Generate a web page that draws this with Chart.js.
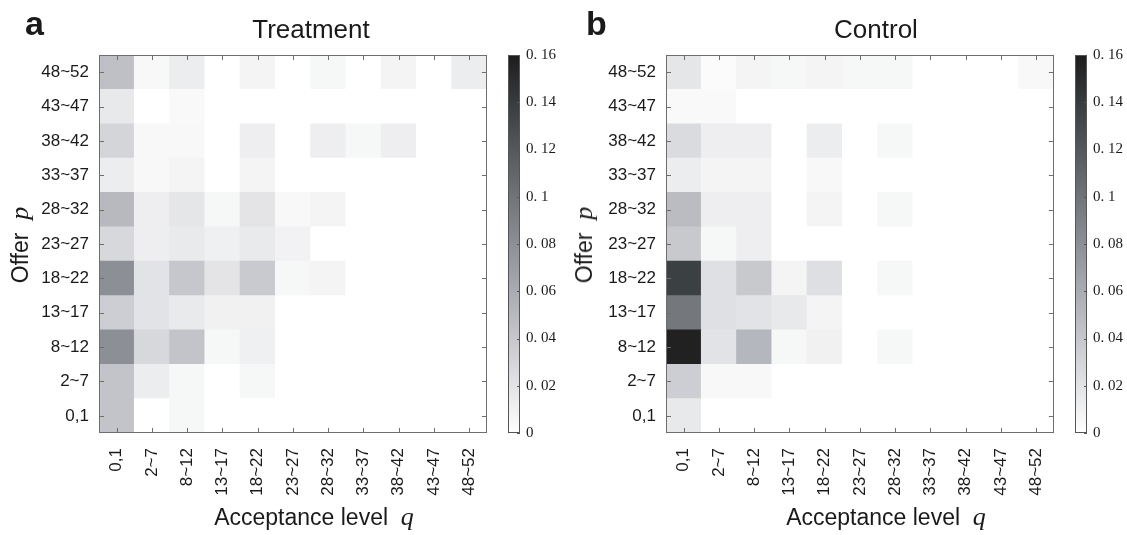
<!DOCTYPE html>
<html><head><meta charset="utf-8">
<script src="https://cdn.jsdelivr.net/npm/chart.js@4.4.0/dist/chart.umd.min.js"></script>
<style>
html,body{margin:0;padding:0;background:#fff;}
#wrap{position:relative;width:1127px;height:535px;overflow:hidden;font-family:"Liberation Sans",Arial,sans-serif;color:#1a1a1a;}
canvas{position:absolute;}
.lbl{position:absolute;line-height:1;white-space:nowrap;}
.ctr{transform:translateX(-50%);}
.ital{font-family:"Liberation Serif",serif;font-style:italic;}
.ytitle{position:absolute;line-height:1;white-space:nowrap;font-size:23px;transform:translate(-50%,-50%) rotate(-90deg);}
</style></head><body>
<div id="wrap">
  <canvas id="hmA" width="505" height="535" style="left:0;top:0"></canvas>
  <canvas id="cbA" width="60" height="535" style="left:500px;top:0"></canvas>
  <canvas id="hmB" width="505" height="535" style="left:567px;top:0"></canvas>
  <canvas id="cbB" width="60" height="535" style="left:1067px;top:0"></canvas>

  <div class="lbl" style="left:25px;top:6px;font-size:34px;font-weight:bold;">a</div>
  <div class="lbl" style="left:586px;top:6px;font-size:34px;font-weight:bold;">b</div>
  <div class="lbl ctr" style="left:311px;top:16px;font-size:26px;">Treatment</div>
  <div class="lbl ctr" style="left:876px;top:16px;font-size:26px;">Control</div>
  <div class="lbl ctr" style="left:314px;top:504px;font-size:23px;">Acceptance level&nbsp;&nbsp;<span class="ital" style="font-size:26px">q</span></div>
  <div class="lbl ctr" style="left:886px;top:504px;font-size:23px;">Acceptance level&nbsp;&nbsp;<span class="ital" style="font-size:26px">q</span></div>
  <div class="ytitle" style="left:20px;top:245px;">Offer&nbsp; <span class="ital" style="font-size:26px">p</span></div>
  <div class="ytitle" style="left:584px;top:245px;">Offer&nbsp; <span class="ital" style="font-size:26px">p</span></div>
</div>
<script>
// Categories (acceptance level q on x, offer p on y; y listed bottom -> top)
const xCats = ['0,1','2~7','8~12','13~17','18~22','23~27','28~32','33~37','38~42','43~47','48~52'];
const yCats = ['0,1','2~7','8~12','13~17','18~22','23~27','28~32','33~37','38~42','43~47','48~52'];
// Colour-bar ticks
const cbTicks = [0, 0.02, 0.04, 0.06, 0.08, 0.1, 0.12, 0.14, 0.16];

// Treatment: one row per offer category (bottom row first), columns follow xCats
const treatment = [
  [0.042, 0.000, 0.006, 0.000, 0.000, 0.000, 0.000, 0.000, 0.000, 0.000, 0.000],
  [0.042, 0.013, 0.006, 0.000, 0.006, 0.000, 0.000, 0.000, 0.000, 0.000, 0.000],
  [0.080, 0.028, 0.042, 0.006, 0.011, 0.000, 0.000, 0.000, 0.000, 0.000, 0.000],
  [0.035, 0.020, 0.015, 0.010, 0.010, 0.000, 0.000, 0.000, 0.000, 0.000, 0.000],
  [0.080, 0.020, 0.040, 0.019, 0.038, 0.006, 0.008, 0.000, 0.000, 0.000, 0.000],
  [0.028, 0.012, 0.015, 0.011, 0.015, 0.009, 0.000, 0.000, 0.000, 0.000, 0.000],
  [0.050, 0.012, 0.018, 0.006, 0.019, 0.005, 0.008, 0.000, 0.000, 0.000, 0.000],
  [0.013, 0.005, 0.008, 0.000, 0.008, 0.000, 0.000, 0.000, 0.000, 0.000, 0.000],
  [0.030, 0.005, 0.005, 0.000, 0.012, 0.000, 0.012, 0.006, 0.012, 0.000, 0.000],
  [0.016, 0.000, 0.004, 0.000, 0.000, 0.000, 0.000, 0.000, 0.000, 0.000, 0.000],
  [0.045, 0.005, 0.013, 0.000, 0.008, 0.000, 0.006, 0.000, 0.008, 0.000, 0.013]
];
// Control
const control = [
  [0.016, 0.000, 0.000, 0.000, 0.000, 0.000, 0.000, 0.000, 0.000, 0.000, 0.000],
  [0.035, 0.005, 0.005, 0.000, 0.000, 0.000, 0.000, 0.000, 0.000, 0.000, 0.000],
  [0.157, 0.020, 0.052, 0.006, 0.010, 0.000, 0.006, 0.000, 0.000, 0.000, 0.000],
  [0.097, 0.022, 0.020, 0.016, 0.008, 0.000, 0.000, 0.000, 0.000, 0.000, 0.000],
  [0.137, 0.022, 0.039, 0.008, 0.023, 0.000, 0.006, 0.000, 0.000, 0.000, 0.000],
  [0.039, 0.006, 0.012, 0.000, 0.000, 0.000, 0.000, 0.000, 0.000, 0.000, 0.000],
  [0.048, 0.012, 0.012, 0.000, 0.008, 0.000, 0.006, 0.000, 0.000, 0.000, 0.000],
  [0.013, 0.008, 0.008, 0.000, 0.005, 0.000, 0.000, 0.000, 0.000, 0.000, 0.000],
  [0.026, 0.012, 0.012, 0.000, 0.013, 0.000, 0.006, 0.000, 0.000, 0.000, 0.000],
  [0.004, 0.004, 0.000, 0.000, 0.000, 0.000, 0.000, 0.000, 0.000, 0.000, 0.000],
  [0.018, 0.003, 0.008, 0.006, 0.008, 0.006, 0.006, 0.000, 0.000, 0.000, 0.005]
];

const VMAX = 0.16;
const cmap = [
  [0.00, [255, 255, 255]],
  [0.30, [186, 188, 194]],
  [0.50, [140, 144, 150]],
  [0.86, [58, 64, 66]],
  [1.00, [30, 28, 29]]
];
function rgb(c){ return 'rgb(' + c.map(Math.round).join(',') + ')'; }
function colorFor(v){
  const t = Math.max(0, Math.min(1, v / VMAX));
  for (let i = 1; i < cmap.length; i++) {
    if (t <= cmap[i][0]) {
      const [t0, c0] = cmap[i-1], [t1, c1] = cmap[i];
      const f = (t - t0) / (t1 - t0);
      return rgb(c0.map((c, k) => c + (c1[k] - c) * f));
    }
  }
  return rgb(cmap[cmap.length-1][1]);
}

const AX = '#6e6e6e';
const tickFont = {family: '"Liberation Sans", Arial, sans-serif', size: 17};

const framePlugin = {
  id: 'frame',
  afterDraw(chart) {
    const {ctx, chartArea: a, scales} = chart;
    ctx.save();
    ctx.strokeStyle = AX; ctx.lineWidth = 1;
    ctx.strokeRect(Math.round(a.left) + 0.5, Math.round(a.top) + 0.5, Math.round(a.right - a.left) - 1, Math.round(a.bottom - a.top) - 1);
    ctx.beginPath();
    scales.x.ticks.forEach((t, i) => {
      const x = Math.round(scales.x.getPixelForTick(i)) + 0.5;
      ctx.moveTo(x, a.bottom); ctx.lineTo(x, a.bottom - 5);
      ctx.moveTo(x, a.top); ctx.lineTo(x, a.top + 5);
    });
    scales.y.ticks.forEach((t, i) => {
      const y = Math.round(scales.y.getPixelForTick(i)) + 0.5;
      ctx.moveTo(a.left, y); ctx.lineTo(a.left + 5, y);
      ctx.moveTo(a.right, y); ctx.lineTo(a.right - 5, y);
    });
    ctx.stroke();
    ctx.restore();
  }
};

function heatmap(id, matrix) {
  const datasets = yCats.map((row, r) => ({
    label: row,
    data: xCats.map(() => 1),
    backgroundColor: matrix[r].map(colorFor),
    borderWidth: 0,
    barPercentage: 1,
    categoryPercentage: 1
  }));
  return new Chart(document.getElementById(id), {
    type: 'bar',
    data: {labels: xCats, datasets},
    options: {
      responsive: false, animation: false,
      layout: {padding: {left: 0, top: 55, right: 8, bottom: 0}},
      plugins: {legend: {display: false}, tooltip: {enabled: false}},
      scales: {
        x: {
          stacked: true,
          grid: {display: false, drawTicks: false}, border: {display: false},
          ticks: {minRotation: 90, maxRotation: 90, autoSkip: false, padding: 15, color: '#1a1a1a', font: tickFont},
          afterFit(s) { s.height = 102; }
        },
        y: {
          stacked: true, min: 0, max: 11,
          grid: {display: false, drawTicks: false}, border: {display: false},
          afterBuildTicks(axis) { axis.ticks = yCats.map((_, i) => ({value: i + 0.5})); },
          ticks: {autoSkip: false, padding: 10, color: '#1a1a1a', font: tickFont, callback: (v, i) => yCats[i]},
          afterFit(s) { s.width = 99; }
        }
      }
    },
    plugins: [framePlugin]
  });
}

const cbFrame = {
  id: 'cbframe',
  afterDraw(chart) {
    const {ctx, chartArea: a, scales} = chart;
    ctx.save();
    ctx.strokeStyle = '#555'; ctx.lineWidth = 1;
    ctx.strokeRect(Math.round(a.left) + 0.5, Math.round(a.top) + 0.5, Math.round(a.right - a.left) - 1, Math.round(a.bottom - a.top) - 1);
    ctx.beginPath();
    scales.y.ticks.forEach((t, i) => {
      const y = Math.round(scales.y.getPixelForTick(i)) + 0.5;
      ctx.moveTo(a.right, y); ctx.lineTo(a.right - 3, y);
    });
    ctx.stroke();
    ctx.restore();
  }
};

function colorbar(id) {
  return new Chart(document.getElementById(id), {
    type: 'bar',
    data: {labels: ['cb'], datasets: [{
      data: [VMAX],
      barPercentage: 1, categoryPercentage: 1, borderWidth: 0,
      backgroundColor: (c) => {
        const a = c.chart.chartArea;
        if (!a) return '#888';
        const g = c.chart.ctx.createLinearGradient(0, a.bottom, 0, a.top);
        cmap.forEach(s => g.addColorStop(s[0], rgb(s[1])));
        return g;
      }
    }]},
    options: {
      responsive: false, animation: false,
      layout: {padding: {left: 8, top: 55, right: 0, bottom: 102}},
      plugins: {legend: {display: false}, tooltip: {enabled: false}},
      scales: {
        x: {display: false},
        y: {
          position: 'right', min: 0, max: VMAX,
          grid: {display: false, drawTicks: false}, border: {display: false},
          afterBuildTicks(axis) { axis.ticks = cbTicks.map(v => ({value: v})); },
          ticks: {
            padding: 6, color: '#1a1a1a',
            font: {family: '"Liberation Serif", "Times New Roman", serif', size: 15},
            callback: (v) => v === 0 ? '0' : String(parseFloat(v.toFixed(2))).replace('.', '. ')
          },
          afterFit(s) { s.width = 40; }
        }
      }
    },
    plugins: [cbFrame]
  });
}

heatmap('hmA', treatment);
heatmap('hmB', control);
colorbar('cbA');
colorbar('cbB');
</script>
</body></html>
